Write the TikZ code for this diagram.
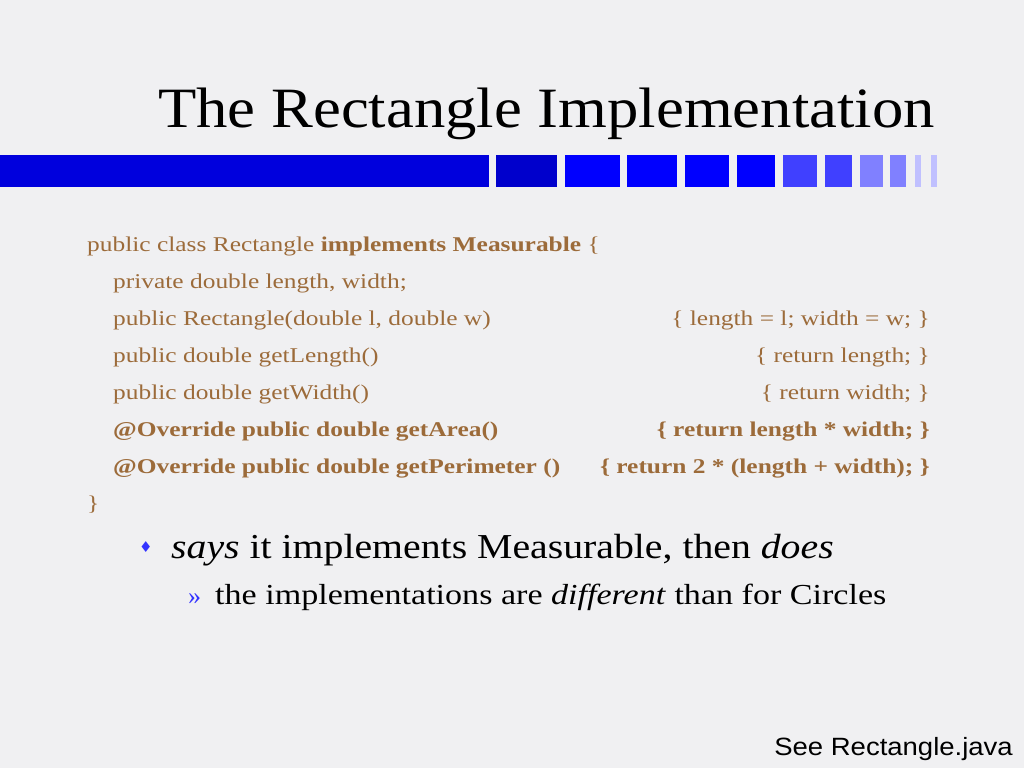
\documentclass[tikz,border=0pt]{standalone}
\usepackage{fontspec}
\usepackage{graphicx}
\setmainfont{Liberation Serif}
\newfontfamily\sansf{Liberation Sans}
\newfontfamily\dejav{DejaVu Sans}
\definecolor{codec}{HTML}{9C6B3A}
\definecolor{bgc}{HTML}{F0F0F2}
\definecolor{ba}{HTML}{0000DD}
\definecolor{bb}{HTML}{0000CC}
\definecolor{bc}{HTML}{0000FF}
\definecolor{bd}{HTML}{4040FF}
\definecolor{be}{HTML}{8080FF}
\definecolor{bf}{HTML}{C0C0FF}
\newcommand{\cs}[1]{\scalebox{1.21}[1]{#1}}
\begin{document}
\begin{tikzpicture}[x=1pt,y=-1pt,
  code/.style={anchor=base west,inner sep=0pt,text=codec,font=\fontsize{21}{24}\selectfont},
  coder/.style={anchor=base east,inner sep=0pt,text=codec,font=\fontsize{21}{24}\selectfont}]
\fill[bgc] (0,0) rectangle (1024,768);
\useasboundingbox (0,0) rectangle (1024,768);
\node[anchor=base west,inner sep=0pt,font=\fontsize{57}{60}\selectfont] (title) at (158,127) {\scalebox{1.10}[1]{The Rectangle Implementation}};
\fill[ba] (0,155) rectangle (489,187);
\fill[bb] (496,155) rectangle (557,187);
\foreach \a/\b in {565/620,627/677,685/729,737/775}{\fill[bc] (\a,155) rectangle (\b,187);}
\foreach \a/\b in {783/817,825/852}{\fill[bd] (\a,155) rectangle (\b,187);}
\foreach \a/\b in {860/883,890/906}{\fill[be] (\a,155) rectangle (\b,187);}
\foreach \a/\b in {915/921,931/937}{\fill[bf] (\a,155) rectangle (\b,187);}
\node[code] (l1) at (87,251) {\cs{public class Rectangle \textbf{implements Measurable} \{}};
\node[code] (l2) at (113,288) {\cs{private double length, width;}};
\node[code] (l3) at (113,325) {\cs{public Rectangle(double l, double w)}};
\node[coder] (r3) at (930,325) {\cs{\{ length = l; width = w; \}}};
\node[code] (l4) at (113,362) {\cs{public double getLength()}};
\node[coder] (r4) at (930,362) {\cs{\{ return length; \}}};
\node[code] (l5) at (113,399) {\cs{public double getWidth()}};
\node[coder] (r5) at (930,399) {\cs{\{ return width; \}}};
\node[code] (l6) at (113,436) {\cs{\textbf{@Override public double getArea()}}};
\node[coder] (r6) at (930,436) {\cs{\textbf{\{ return length * width; \}}}};
\node[code] (l7) at (113,473) {\cs{\textbf{@Override public double getPerimeter ()}}};
\node[coder] (r7) at (930,473) {\cs{\textbf{\{ return 2 * (length + width); \}}}};
\node[code] (l8) at (87,510) {\cs{\}}};
\node[anchor=base west,inner sep=0pt,text=blue!80!white,font=\dejav\fontsize{15}{18}\selectfont] (bul) at (139,552) {♦};
\node[anchor=base west,inner sep=0pt,font=\fontsize{35}{40}\selectfont] (b1) at (171,558) {\scalebox{1.136}[1]{\textit{says} it implements Measurable, then \textit{does}}};
\node[anchor=base west,inner sep=0pt,text=blue!80!white,font=\fontsize{26}{30}\selectfont] (sb) at (188,604) {»};
\node[anchor=base west,inner sep=0pt,font=\fontsize{29}{34}\selectfont] (b2) at (215,604) {\scalebox{1.175}[1]{the implementations are \textit{different} than for Circles}};
\node[anchor=base east,inner sep=0pt,font=\sansf\fontsize{25}{30}\selectfont] (see) at (1013,755) {\scalebox{1.10}[1]{See Rectangle.java}};
\end{tikzpicture}
\end{document}
